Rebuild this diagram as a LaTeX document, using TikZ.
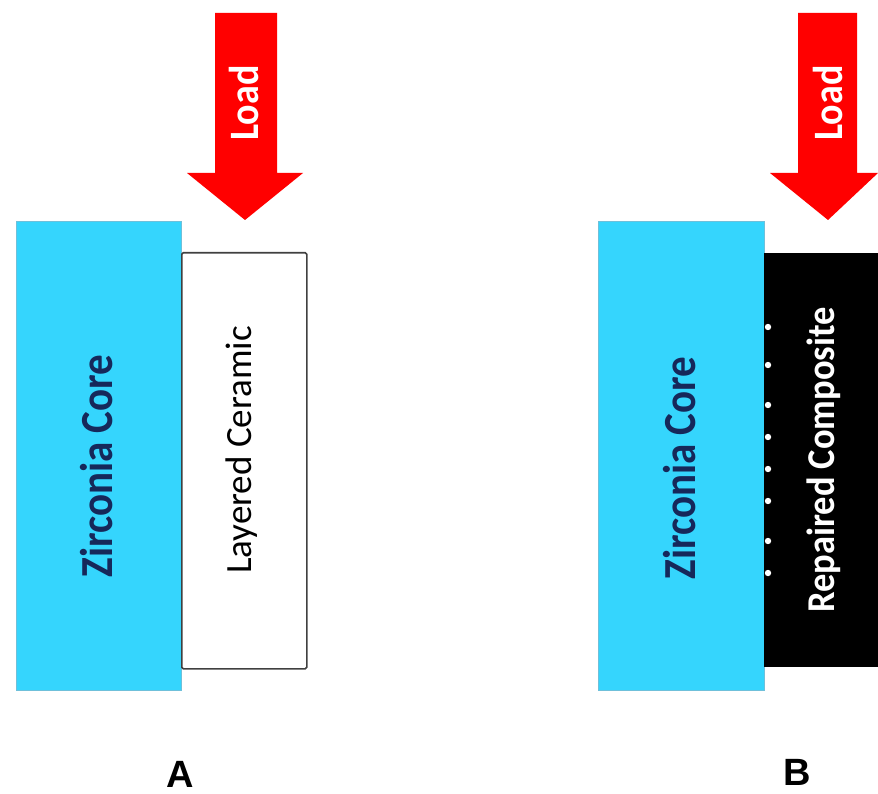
\documentclass[tikz,border=0pt]{standalone}
\usepackage{fontspec}
\usepackage{graphicx}
\setmainfont{Carlito}
\newfontfamily\labfont{Liberation Sans}
\definecolor{zblue}{HTML}{35D5FD}
\definecolor{zedge}{HTML}{6FC0DA}
\definecolor{navy}{HTML}{16285A}
\definecolor{loadred}{HTML}{FF0000}
\tikzset{
  core/.style={rectangle, draw=zedge, line width=1pt, fill=zblue, anchor=north west, inner sep=0pt},
  ceramic/.style={rectangle, draw=black!75, line width=1.6pt, fill=white, rounded corners=1.5pt, anchor=north west, inner sep=0pt},
  composite/.style={rectangle, fill=black, anchor=north west, inner sep=0pt},
  corelabel/.style={rotate=90, inner sep=0pt, text=navy, font=\bfseries\fontsize{41}{41}\selectfont},
  cerlabel/.style={rotate=90, inner sep=0pt, font=\fontsize{37}{37}\selectfont},
  complabel/.style={rotate=90, inner sep=0pt, text=white, font=\bfseries\fontsize{36.5}{36.5}\selectfont},
  loadlabel/.style={rotate=90, inner sep=0pt, text=white, font=\bfseries\fontsize{38}{38}\selectfont},
  panel/.style={font=\labfont\bfseries\fontsize{38}{38}\selectfont, inner sep=0pt, anchor=base}
}
\begin{document}
\begin{tikzpicture}[x=1pt,y=-1pt]
\useasboundingbox (0,0) rectangle (878,794);
% Panel A
\node[core, minimum width=165pt, minimum height=469pt] (coreA) at (16,221) {};
\node[ceramic, minimum width=125pt, minimum height=416pt] (cerA) at (181,252) {};
\node[corelabel] (coreAt) at (97,466) {\scalebox{1}[1.12]{Zirconia Core}};
\node[cerlabel] (cerAt) at (242,450) {Layered Ceramic};
\fill[loadred] (215,13) -- (277,13) -- (277,173) -- (303,173) -- (245,220) -- (187,173) -- (215,173) -- cycle;
\node[loadlabel] (loadA) at (244,103) {\scalebox{1}[1.1]{Load}};
\node[panel] (labA) at (180,787) {A};
% Panel B
\node[core, minimum width=166pt, minimum height=469pt] (coreB) at (598,221) {};
\node[composite, minimum width=116pt, minimum height=414pt] (compB) at (764,253) {};
\node[corelabel] (coreBt) at (680,468) {\scalebox{1}[1.12]{Zirconia Core}};
\node[complabel] (compBt) at (824,460) {\scalebox{1}[1.08]{Repaired Composite}};
\foreach \yy in {327,365,405,437,469,501,541,573}
  \fill[white] (768,\yy) circle (3.2pt);
\fill[loadred] (798,13) -- (857,13) -- (857,173) -- (878,173) -- (828,220) -- (770,173) -- (798,173) -- cycle;
\node[loadlabel] (loadB) at (828,103) {\scalebox{1}[1.1]{Load}};
\node[panel] (labB) at (797,785) {B};
\end{tikzpicture}
\end{document}
